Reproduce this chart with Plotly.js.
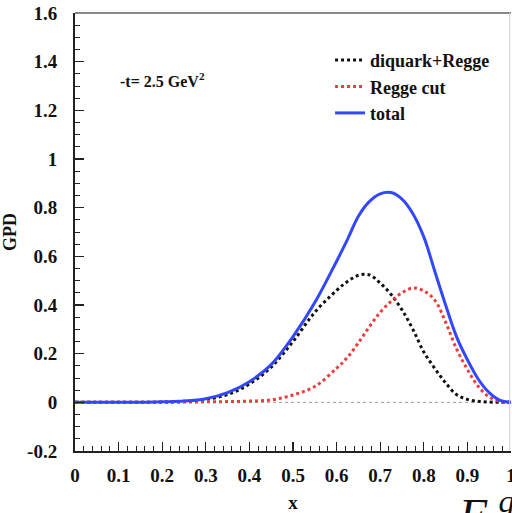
<!DOCTYPE html>
<html>
<head>
<meta charset="utf-8">
<script src="https://cdn.plot.ly/plotly-3.0.1.min.js"></script>
<style>html,body{margin:0;padding:0;background:#fff;}#chart{width:512px;height:513px;}</style>
</head>
<body>
<div id="chart"></div>
<script>
// x grid
var xs = [0, 0.05, 0.1, 0.15, 0.2, 0.25, 0.3, 0.35, 0.4, 0.45, 0.5, 0.55, 0.6, 0.625, 0.65, 0.675, 0.7, 0.725, 0.75, 0.775, 0.8, 0.825, 0.85, 0.875, 0.9, 0.925, 0.95, 0.975, 1];
// diquark+Regge (black dotted)
var diquarkRegge = [0, 0, 0, 0, 0.001, 0.004, 0.012, 0.032, 0.075, 0.145, 0.25, 0.37, 0.46, 0.497, 0.522, 0.524, 0.49, 0.443, 0.38, 0.30, 0.207, 0.14, 0.08, 0.032, 0.012, 0.004, 0.001, 0, 0];
// Regge cut (red dotted)
var reggeCut = [0, 0, 0, 0, 0, 0.001, 0.002, 0.003, 0.005, 0.01, 0.03, 0.065, 0.14, 0.185, 0.245, 0.31, 0.37, 0.415, 0.45, 0.47, 0.458, 0.42, 0.33, 0.22, 0.135, 0.065, 0.022, 0.004, 0];
// total (blue solid)
var total = [0, 0, 0, 0, 0.002, 0.005, 0.015, 0.04, 0.085, 0.155, 0.27, 0.41, 0.58, 0.67, 0.765, 0.825, 0.857, 0.862, 0.835, 0.775, 0.68, 0.54, 0.40, 0.27, 0.175, 0.095, 0.04, 0.008, 0];

var seriesNames = ['diquark+Regge', 'Regge cut', 'total'];
var xTickVals = [0, 0.1, 0.2, 0.3, 0.4, 0.5, 0.6, 0.7, 0.8, 0.9, 1];
var xTickText = ['0', '0.1', '0.2', '0.3', '0.4', '0.5', '0.6', '0.7', '0.8', '0.9', '1'];
var yTickVals = [-0.2, 0, 0.2, 0.4, 0.6, 0.8, 1, 1.2, 1.4, 1.6];
var yTickText = ['-0.2', '0', '0.2', '0.4', '0.6', '0.8', '1', '1.2', '1.4', '1.6'];

var serif = '"Liberation Serif", "Times New Roman", serif';

var traces = [
  {x: xs, y: diquarkRegge, name: seriesNames[0], mode: 'lines', type: 'scatter',
   line: {color: '#111111', width: 3, dash: 'dot', shape: 'spline'}},
  {x: xs, y: reggeCut, name: seriesNames[1], mode: 'lines', type: 'scatter',
   line: {color: '#ee3b3b', width: 3, dash: 'dot', shape: 'spline'}},
  {x: xs, y: total, name: seriesNames[2], mode: 'lines', type: 'scatter',
   line: {color: '#3347ff', width: 3, shape: 'spline'}}
];

var layout = {
  width: 512, height: 513,
  margin: {l: 75, r: 1, t: 13, b: 62},
  paper_bgcolor: '#ffffff', plot_bgcolor: '#ffffff',
  font: {family: serif, color: '#111111', size: 17, weight: 'bold'},
  showlegend: true,
  legend: {x: 0.585, y: 0.934, xanchor: 'left', yanchor: 'top', bgcolor: 'rgba(0,0,0,0)',
           font: {family: serif, size: 18, weight: 'bold', color: '#111111'}, itemwidth: 30, tracegroupgap: 0},
  xaxis: {
    range: [0, 1], tickmode: 'array', tickvals: xTickVals, ticktext: xTickText,
    ticks: 'inside', ticklen: 9, tickwidth: 1.2, tickcolor: '#222',
    minor: {tickmode: 'linear', tick0: 0, dtick: 0.02, ticks: 'inside', ticklen: 5, tickwidth: 1, tickcolor: '#222'},
    showline: true, linecolor: '#222', linewidth: 2, showgrid: false, zeroline: false,
    ticklabelstandoff: 6, ticklabeloverflow: 'allow',
    tickfont: {family: serif, size: 19, weight: 'bold'},
    title: {text: 'x', font: {family: serif, size: 19, weight: 'bold'}, standoff: 14}
  },
  yaxis: {
    range: [-0.2, 1.6], tickmode: 'array', tickvals: yTickVals, ticktext: yTickText,
    ticks: 'inside', ticklen: 9, tickwidth: 1.2, tickcolor: '#222',
    minor: {tickmode: 'linear', tick0: 0, dtick: 0.05, ticks: 'inside', ticklen: 5, tickwidth: 1, tickcolor: '#222'},
    showline: true, linecolor: '#222', linewidth: 2, showgrid: false, zeroline: false,
    ticklabelstandoff: 12,
    tickfont: {family: serif, size: 19, weight: 'bold'},
    title: {text: 'GPD', font: {family: serif, size: 18, weight: 'bold'}, standoff: 8}
  },
  shapes: [
    {type: 'line', xref: 'paper', yref: 'paper', x0: 0, x1: 1, y0: 1, y1: 1, line: {color: '#8a8a8a', width: 2}},
    {type: 'line', xref: 'paper', yref: 'paper', x0: 0.997, x1: 0.997, y0: 0, y1: 1, line: {color: '#cfcfcf', width: 1}},
    {type: 'line', xref: 'x', yref: 'y', x0: 0, x1: 1, y0: 0, y1: 0, layer: 'below', line: {color: '#999999', width: 1, dash: 'dot'}}
  ],
  annotations: [
    {xref: 'paper', yref: 'paper', x: (118 - 75) / 436, y: (451 - 80) / 438, xanchor: 'left', yanchor: 'middle',
     showarrow: false, text: '-t= 2.5 GeV<sup>2</sup>', font: {family: serif, size: 16, weight: 'bold', color: '#111'}},
    {xref: 'paper', yref: 'paper', x: (456 - 75) / 436, y: (451 - 481) / 438, xanchor: 'left', yanchor: 'top',
     showarrow: false, text: '<i>F</i> <sup><i>q</i></sup>', font: {family: serif, size: 46, weight: 'normal', color: '#111'}}
  ]
};

Plotly.newPlot('chart', traces, layout, {displayModeBar: false, staticPlot: true});
</script>
</body>
</html>
